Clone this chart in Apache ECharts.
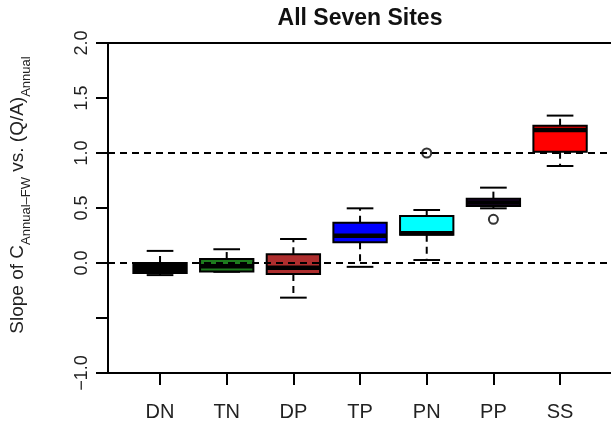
<!DOCTYPE html>
<html>
<head>
<meta charset="utf-8">
<script src="https://cdn.jsdelivr.net/npm/echarts@6/dist/echarts.min.js"></script>
<style>
  html, body { margin: 0; padding: 0; background: #fff; }
  #chart { width: 611px; height: 429px; }
</style>
</head>
<body>
<div id="chart"></div>
<script>
// Sites, in plotting order
const sites = ['DN', 'TN', 'DP', 'TP', 'PN', 'PP', 'SS'];
// Box statistics per site: lower whisker, Q1, median, Q3, upper whisker
const lowerWhisker = [-0.11, -0.08, -0.315, -0.035, 0.027, 0.497, 0.882];
const q1 =           [-0.09, -0.078, -0.10, 0.188, 0.257, 0.518, 1.012];
const medians =      [-0.05, -0.03, -0.043, 0.248, 0.27, 0.55, 1.209];
const q3 =           [0.00, 0.036, 0.079, 0.366, 0.427, 0.585, 1.248];
const upperWhisker = [0.11, 0.125, 0.218, 0.497, 0.482, 0.685, 1.34];
// Outlying points: [site index, value]
const outliers = [[4, 1.0], [5, 0.397]];
// Box fill colours
const boxColors = ['#000000', '#1E7B1E', '#AE2E2E', '#0000FF', '#00FFFF', '#3A0A5E', '#FF0000'];
// Horizontal reference levels
const refLevels = [0, 1];
// Y axis tick values that carry a label
const yLabelled = ['-1.0', '0.0', '0.5', '1.0', '1.5', '2.0'];

const boxData = sites.map((s, i) => [i, lowerWhisker[i], q1[i], medians[i], q3[i], upperWhisker[i]]);

const chart = echarts.init(document.getElementById('chart'), null, { renderer: 'canvas' });
const FONT = 'Liberation Sans, Arial, Helvetica, sans-serif';

// R-style box: dashed whiskers, half-width staples, thick median bar
function renderBox(params, api) {
  const i = api.value(0);
  const lo = api.value(1), b1 = api.value(2), md = api.value(3), b3 = api.value(4), hi = api.value(5);
  const band = api.size([1, 0])[0];
  const bw = band * 0.8;
  const half = bw / 2, cap = bw / 4;
  const cx = api.coord([i, 0])[0];
  const y = v => api.coord([i, v])[1];
  return {
    type: 'group',
    children: [
      { type: 'line', shape: { x1: cx, y1: y(b3), x2: cx, y2: y(hi) }, style: { stroke: '#000', lineWidth: 2, lineDash: [7, 5] } },
      { type: 'line', shape: { x1: cx, y1: y(b1), x2: cx, y2: y(lo) }, style: { stroke: '#000', lineWidth: 2, lineDash: [7, 5] } },
      { type: 'line', shape: { x1: cx - cap, y1: y(hi), x2: cx + cap, y2: y(hi) }, style: { stroke: '#000', lineWidth: 2 } },
      { type: 'line', shape: { x1: cx - cap, y1: y(lo), x2: cx + cap, y2: y(lo) }, style: { stroke: '#000', lineWidth: 2 } },
      { type: 'rect', shape: { x: cx - half, y: y(b3), width: bw, height: y(b1) - y(b3) },
        style: { fill: boxColors[params.dataIndex], stroke: '#000', lineWidth: 2 } },
      { type: 'line', shape: { x1: cx - half, y1: y(md), x2: cx + half, y2: y(md) },
        style: { stroke: '#000', lineWidth: 4.5 } }
    ]
  };
}

const option = {
  animation: false,
  backgroundColor: '#fff',
  title: {
    text: 'All Seven Sites',
    left: 360,
    textAlign: 'center',
    top: 7,
    padding: 0,
    textStyle: { fontFamily: FONT, fontWeight: 'bold', fontSize: 23, color: '#111' }
  },
  grid: [
    { left: 108, top: 43, width: 505, height: 330, outerBoundsMode: 'none',
      show: true, borderColor: '#000', borderWidth: 2 },
    { left: 126.7, top: 43, width: 466.7, height: 330, outerBoundsMode: 'none' }
  ],
  xAxis: [
    { type: 'value', gridIndex: 0, min: 0, max: 1, show: false },
    {
      type: 'category', gridIndex: 1, data: sites, position: 'bottom',
      axisLine: { show: true, onZero: false, lineStyle: { color: '#000', width: 2 } },
      axisTick: { show: true, alignWithLabel: true, length: 12, lineStyle: { color: '#000', width: 2 } },
      axisLabel: { margin: 29, fontFamily: FONT, fontSize: 20, color: '#222' },
      splitLine: { show: false }
    }
  ],
  yAxis: [
    {
      type: 'value', gridIndex: 0, min: -1, max: 2, interval: 0.5,
      name: '{b|Slope of C}{s|Annual–FW}{b| vs. (Q/A)}{s|Annual}',
      nameLocation: 'middle', nameRotate: 90, nameGap: 75,
      nameTextStyle: {
        fontFamily: FONT, color: '#222', padding: [0, 0, 0, 26],
        rich: {
          b: { fontFamily: FONT, fontSize: 19, color: '#222', lineHeight: 30, verticalAlign: 'middle' },
          s: { fontFamily: FONT, fontSize: 13, color: '#222', lineHeight: 30, verticalAlign: 'bottom' }
        }
      },
      axisLine: { show: true, onZero: false, lineStyle: { color: '#000', width: 2 } },
      axisTick: { show: true, length: 12, lineStyle: { color: '#000', width: 2 } },
      axisLabel: {
        rotate: 90, margin: 17, fontFamily: FONT, fontSize: 18, color: '#222',
        formatter: v => {
          const t = v.toFixed(1);
          return yLabelled.indexOf(t) >= 0 ? t.replace('-', '\u2212') : '';
        }
      },
      splitLine: { show: false }
    },
    { type: 'value', gridIndex: 1, min: -1, max: 2, show: false }
  ],
  series: [
    {
      type: 'custom', xAxisIndex: 1, yAxisIndex: 1, z: 2,
      renderItem: renderBox,
      encode: { x: 0, y: [1, 2, 3, 4, 5] },
      data: boxData
    },
    {
      type: 'scatter', xAxisIndex: 1, yAxisIndex: 1, z: 3,
      symbol: 'emptyCircle', symbolSize: 9,
      itemStyle: { color: '#000', borderColor: '#000', borderWidth: 1.5 },
      data: outliers
    },
    {
      type: 'line', xAxisIndex: 0, yAxisIndex: 0, z: 5, data: [],
      markLine: {
        silent: true, symbol: 'none', animation: false,
        label: { show: false },
        lineStyle: { color: '#000', width: 2, type: [7, 5] },
        data: refLevels.map(v => ({ yAxis: v }))
      }
    }
  ]
};

chart.setOption(option);
</script>
</body>
</html>
